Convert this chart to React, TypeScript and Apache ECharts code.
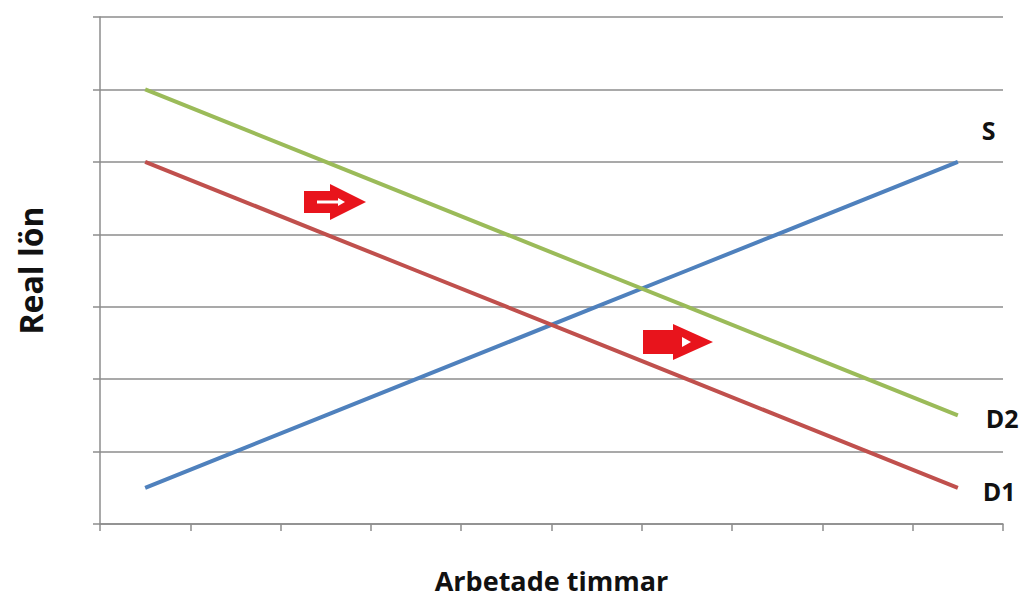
import React, { useEffect, useRef } from "react";
import * as echarts from "echarts";

const categories = ["1", "2", "3", "4", "5", "6", "7", "8", "9", "10"];
const supplyS = [0.5, 1, 1.5, 2, 2.5, 3, 3.5, 4, 4.5, 5];
const demandD1 = [5, 4.5, 4, 3.5, 3, 2.5, 2, 1.5, 1, 0.5];
const demandD2 = [6, 5.5, 5, 4.5, 4, 3.5, 3, 2.5, 2, 1.5];
const seriesNames = ["S", "D1", "D2"];

export default function App() {
  const ref = useRef<HTMLDivElement>(null);
  useEffect(() => {
    const chart = echarts.init(ref.current!, undefined, { renderer: "svg", width: 1027, height: 597 });
    const labelStyle = (dx: number, dy: number) => ({
      show: true,
      formatter: "{a}",
      color: "#111",
      fontFamily: "Open Sans",
      fontWeight: "bold",
      fontSize: 25,
      offset: [dx, dy],
    });
    const arrow = (x: number, y: number, bodyW: number, bodyH: number, headW: number, headH: number) => {
      const tipX = x + bodyW + headW;
      return [
        {
          type: "polygon",
          shape: {
            points: [
              [x, y - bodyH / 2],
              [x + bodyW, y - bodyH / 2],
              [x + bodyW, y - headH / 2],
              [tipX, y],
              [x + bodyW, y + headH / 2],
              [x + bodyW, y + bodyH / 2],
              [x, y + bodyH / 2],
            ],
          },
          style: { fill: "#E8141C" },
          z: 10,
        },
      ];
    };
    chart.setOption({
      animation: false,
      backgroundColor: "#fff",
      grid: { left: 100, right: 24, top: 17, bottom: 73, outerBoundsMode: "none", containLabel: false },
      xAxis: {
        type: "category",
        data: categories,
        boundaryGap: true,
        name: "Arbetade timmar",
        nameLocation: "middle",
        nameGap: 41,
        nameTextStyle: { fontFamily: "Open Sans", fontWeight: "bold", fontSize: 27, lineHeight: 30, color: "#111" },
        axisLine: { lineStyle: { color: "#8c8c8c", width: 1.5 } },
        axisTick: { show: true, length: 7, lineStyle: { color: "#8c8c8c", width: 1.5 } },
        axisLabel: { show: false },
      },
      yAxis: {
        type: "value",
        min: 0,
        max: 7,
        interval: 1,
        name: "Real lön",
        nameLocation: "middle",
        nameGap: 54,
        nameTextStyle: { fontFamily: "Open Sans", fontWeight: "bold", fontSize: 32, color: "#111" },
        axisLine: { show: true, lineStyle: { color: "#8c8c8c", width: 1.5 } },
        axisTick: { show: true, length: 7, lineStyle: { color: "#8c8c8c", width: 1.5 } },
        axisLabel: { show: false },
        splitLine: { lineStyle: { color: "#8c8c8c", width: 1.5 } },
      },
      series: [
        {
          name: seriesNames[0],
          type: "line",
          data: supplyS,
          symbol: "none",
          lineStyle: { color: "#4F81BD", width: 4 },
          endLabel: labelStyle(16, -32),
        },
        {
          name: seriesNames[1],
          type: "line",
          data: demandD1,
          symbol: "none",
          lineStyle: { color: "#C0504D", width: 4 },
          endLabel: labelStyle(17, 3),
        },
        {
          name: seriesNames[2],
          type: "line",
          data: demandD2,
          symbol: "none",
          lineStyle: { color: "#9BBB59", width: 4 },
          endLabel: labelStyle(20, 3),
        },
      ],
      graphic: [
        ...arrow(304, 202, 26, 22, 36, 36),
        { type: "line", shape: { x1: 317, y1: 202, x2: 340, y2: 202 }, style: { stroke: "#fff", lineWidth: 3 }, z: 11 },
        { type: "polygon", shape: { points: [[338, 198], [345, 202], [338, 206]] }, style: { fill: "#fff" }, z: 11 },
        ...arrow(643, 342, 30, 24, 40, 36),
        { type: "polygon", shape: { points: [[682, 337], [691, 342], [682, 347]] }, style: { fill: "#fff" }, z: 11 },
      ],
    });
    return () => chart.dispose();
  }, []);
  return <div ref={ref} style={{ width: 1027, height: 597, position: "absolute", left: 0, top: 0 }} />;
}
